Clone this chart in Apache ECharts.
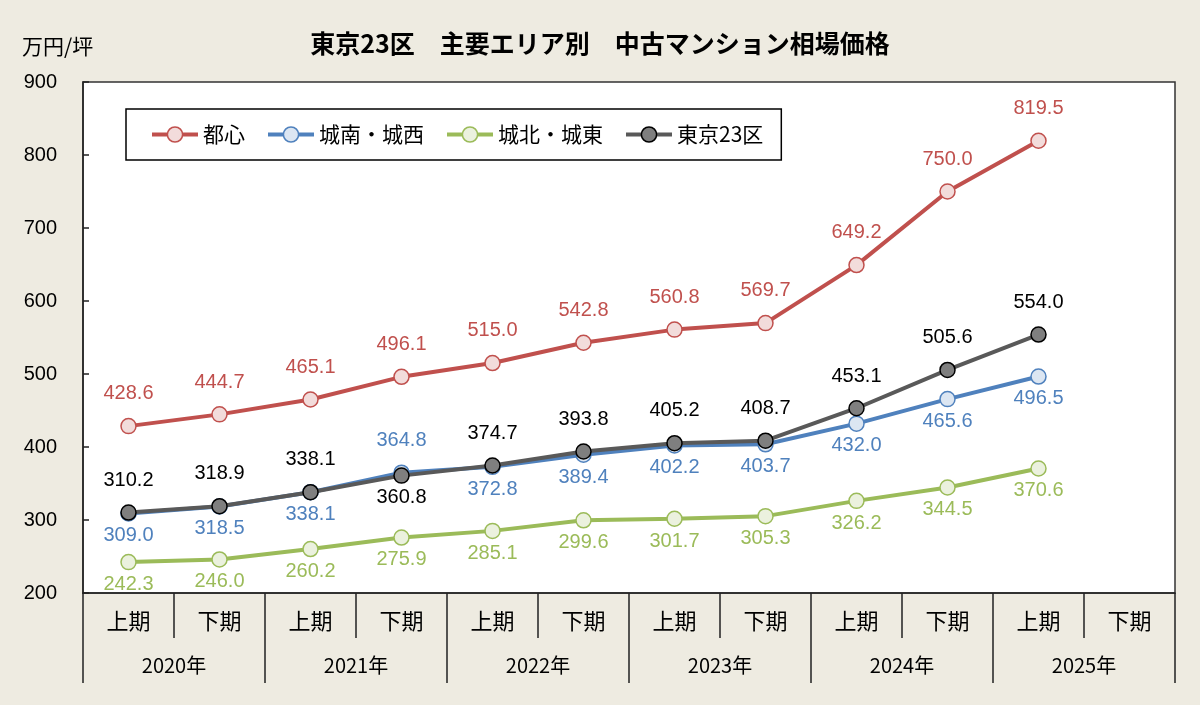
<!DOCTYPE html>
<html>
<head>
<meta charset="utf-8">
<script src="https://cdn.jsdelivr.net/npm/echarts@6/dist/echarts.min.js"></script>
<style>
html,body{margin:0;padding:0;background:#EEEBE1;}
#c{width:1200px;height:705px;}
</style>
</head>
<body>
<div id="c"></div>
<script>
const halfLabels = ['上期','下期','上期','下期','上期','下期','上期','下期','上期','下期','上期','下期'];
const yearLabels = ['2020年','2021年','2022年','2023年','2024年','2025年'];
const seriesNames = ['都心','城南・城西','城北・城東','東京23区'];
const toshin   = [428.6,444.7,465.1,496.1,515.0,542.8,560.8,569.7,649.2,750.0,819.5,null];
const jonan    = [309.0,318.5,338.1,364.8,372.8,389.4,402.2,403.7,432.0,465.6,496.5,null];
const johoku   = [242.3,246.0,260.2,275.9,285.1,299.6,301.7,305.3,326.2,344.5,370.6,null];
const tokyo23  = [310.2,318.9,338.1,360.8,374.7,393.8,405.2,408.7,453.1,505.6,554.0,null];

const FONT = '"Liberation Sans","Noto Sans CJK JP",sans-serif';
const JP = '"Noto Sans CJK JP",sans-serif';
const styles = [
  {line:'#C0504D', fill:'#F2DCDB', border:'#C0504D', label:'#C0504D', pos:'top', flip:[]},
  {line:'#4F81BD', fill:'#DCE6F2', border:'#4F81BD', label:'#4F81BD', pos:'bottom', flip:[3]},
  {line:'#9BBB59', fill:'#EBF1DE', border:'#9BBB59', label:'#9BBB59', pos:'bottom', flip:[]},
  {line:'#595959', fill:'#7F7F7F', border:'#000000', label:'#000000', pos:'top', flip:[3]}
];
const dataSets = [toshin, jonan, johoku, tokyo23];

function buildData(arr, st){
  return arr.map((v,i)=>{
    if (v === null) return null;
    let pos = st.pos;
    if (st.flip.indexOf(i) >= 0) pos = (pos === 'top') ? 'bottom' : 'top';
    return {value: v, label: {position: pos, distance: pos === 'top' ? 14 : 4}};
  });
}

const series = dataSets.map((arr, k)=>{
  const st = styles[k];
  return {
    name: seriesNames[k],
    type: 'line',
    xAxisIndex: 0,
    data: buildData(arr, st),
    symbol: 'circle',
    symbolSize: 15,
    showAllSymbol: true,
    lineStyle: {color: st.line, width: 4},
    itemStyle: {color: st.fill, borderColor: st.border, borderWidth: 1.5},
    emphasis: {disabled: true},
    label: {
      show: true,
      color: st.label,
      fontSize: 20,
      fontFamily: FONT,
      formatter: p => p.value.toFixed(1)
    },
    z: 2 + k
  };
});

const legendData = seriesNames.map((n, k) => ({
  name: n,
  lineStyle: {width: 4, color: styles[k].line},
  itemStyle: {color: styles[k].fill, borderColor: styles[k].border, borderWidth: 1.5}
}));

const chart = echarts.init(document.getElementById('c'));
chart.setOption({
  backgroundColor: '#EEEBE1',
  animation: false,
  title: {
    text: '東京23区　主要エリア別　中古マンション相場価格',
    left: 'center',
    top: 26,
    textStyle: {fontSize: 25, fontWeight: 'bold', color: '#000', fontFamily: JP}
  },
  graphic: [{
    type: 'text',
    left: 22,
    top: 36,
    style: {text: '万円/坪', fill: '#000', font: '21px "Noto Sans CJK JP",sans-serif'}
  }],
  legend: {
    left: 126,
    top: 109,
    orient: 'horizontal',
    backgroundColor: '#fff',
    borderColor: '#000',
    borderWidth: 1.5,
    padding: [15, 18, 15, 24],
    itemGap: 21,
    itemWidth: 46,
    itemHeight: 19,
    textStyle: {fontSize: 21, color: '#000', fontFamily: JP},
    data: legendData
  },
  grid: {
    left: 83, right: 25, top: 82, bottom: 112,
    show: true, backgroundColor: '#fff', borderColor: '#333', borderWidth: 1.5,
    containLabel: false
  },
  xAxis: [{
    type: 'category',
    data: halfLabels,
    position: 'bottom',
    boundaryGap: true,
    axisLine: {show: true, lineStyle: {color: '#222', width: 1.5}},
    axisTick: {show: true, interval: 0, length: 45, lineStyle: {color: '#222', width: 1.5}},
    axisLabel: {interval: 0, margin: 17, fontSize: 22, color: '#000', fontFamily: JP},
    splitLine: {show: false}
  }, {
    type: 'category',
    data: yearLabels,
    position: 'bottom',
    boundaryGap: true,
    axisLine: {show: false},
    axisTick: {show: true, interval: 0, length: 90, lineStyle: {color: '#222', width: 1.5}},
    axisLabel: {interval: 0, margin: 62, fontSize: 20, color: '#000', fontFamily: JP},
    splitLine: {show: false}
  }],
  yAxis: {
    type: 'value',
    min: 200, max: 900, interval: 100,
    axisLine: {show: true, lineStyle: {color: '#222', width: 1.5}},
    axisTick: {show: true, inside: true, length: 6, lineStyle: {color: '#222', width: 1.5}},
    axisLabel: {fontSize: 20, color: '#000', margin: 26, fontFamily: FONT},
    splitLine: {show: false}
  },
  series: series
});
</script>
</body>
</html>
